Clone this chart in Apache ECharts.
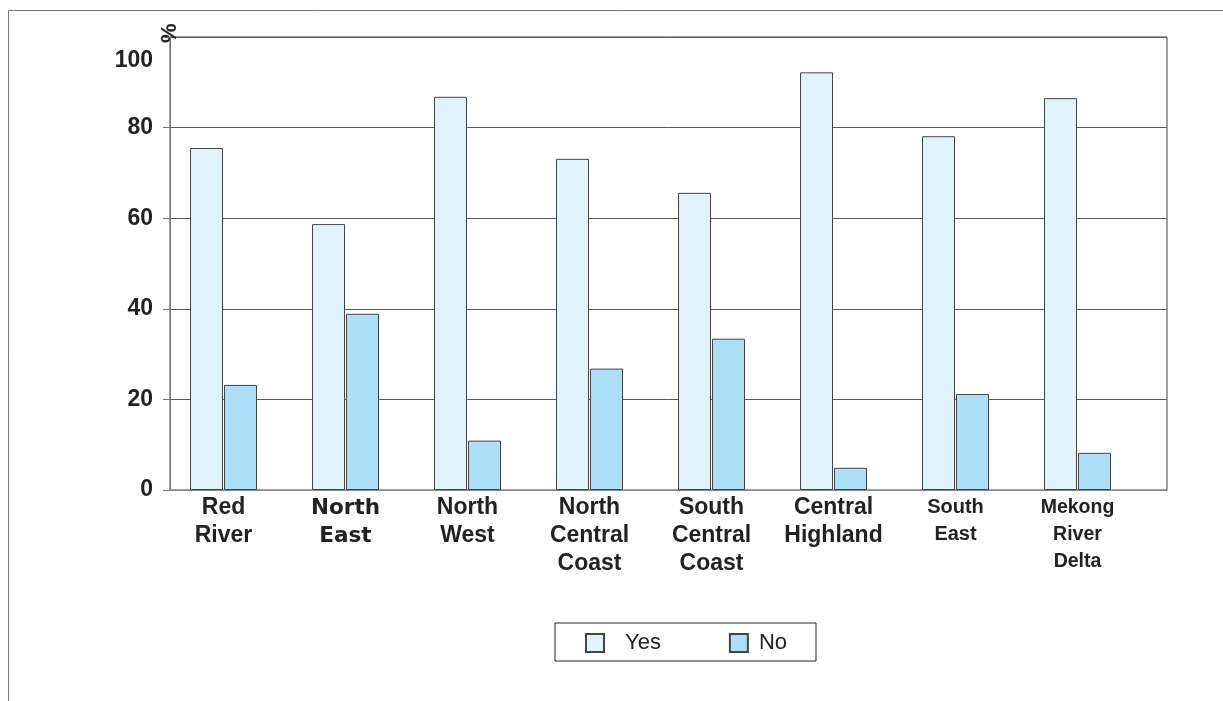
<!DOCTYPE html>
<html><head><meta charset="utf-8">
<script src="https://cdn.jsdelivr.net/npm/echarts@6/dist/echarts.min.js"></script>
<style>html,body{margin:0;padding:0;background:#fff}#c{width:1223px;height:701px}</style>
</head><body><div id="c"></div>
<script>
const categories = ['Red\nRiver', 'North\nEast', 'North\nWest', 'North\nCentral\nCoast', 'South\nCentral\nCoast', 'Central\nHighland', 'South\nEast', 'Mekong\nRiver\nDelta'];
const yesValues = [75.5, 58.7, 86.8, 73.1, 65.6, 92.2, 78.1, 86.5];
const noValues = [23.2, 38.9, 10.9, 26.8, 33.4, 4.9, 21.2, 8.2];
const yTicks = [0, 20, 40, 60, 80, 100];
const seriesNames = ['Yes', 'No'];

const labelStyles = {
  'North\nEast': {fontFamily: 'DejaVu Sans', fontWeight: 'bold', fontSize: 21.5, lineHeight: 28},
  'South\nEast': {fontSize: 20, lineHeight: 27},
  'Mekong\nRiver\nDelta': {fontSize: 19.5, lineHeight: 27}
};
const catData = categories.map(c => labelStyles[c] ? {value: c, textStyle: labelStyles[c]} : c);
const legendPads = [16, 6];

const chart = echarts.init(document.getElementById('c'));
chart.setOption({
  animation: false,
  backgroundColor: '#fff',
  graphic: [{type: 'rect', shape: {x: 8.5, y: 10.5, width: 1400, height: 900}, style: {fill: 'none', stroke: '#777', lineWidth: 1}, silent: true}],
  grid: [
    {left: 162.5, right: 84.5, top: 37, bottom: 211, show: false},
    {left: 170, right: 56, top: 37, bottom: 211, show: true, borderColor: '#444', borderWidth: 1, backgroundColor: 'transparent'}
  ],
  legend: {
    data: seriesNames.map((n, i) => ({name: n, textStyle: {padding: [0, 0, 0, legendPads[i]]}})),
    left: 555, top: 623,
    padding: [9, 29, 7, 30],
    itemWidth: 18, itemHeight: 18, itemGap: 68,
    borderColor: '#222', borderWidth: 1,
    textStyle: {fontFamily: 'Liberation Sans', fontSize: 22, lineHeight: 18, color: '#222'},
    icon: 'rect'
  },
  xAxis: [
    {type: 'category', gridIndex: 0, data: catData,
     axisLine: {show: false}, axisTick: {show: false},
     axisLabel: {interval: 0, margin: 4, fontFamily: 'Liberation Sans', fontWeight: 'bold', fontSize: 23, lineHeight: 28, color: '#222'}},
    {type: 'value', gridIndex: 1, min: 0, max: 1, show: true,
     axisLine: {show: true, lineStyle: {color: '#888', width: 1}},
     axisTick: {show: false}, axisLabel: {show: false}, splitLine: {show: false}}
  ],
  yAxis: [
    {type: 'value', gridIndex: 0, min: 0, max: 100, interval: 20, show: false, splitLine: {show: false}},
    {type: 'value', gridIndex: 1, min: 0, max: 100, interval: 20,
     name: '%', nameLocation: 'end', nameRotate: 90, nameGap: -6,
     nameTextStyle: {fontFamily: 'Liberation Sans', fontWeight: 'bold', fontSize: 22, color: '#222', align: 'left', verticalAlign: 'middle'},
     axisLine: {show: true, lineStyle: {color: '#777'}},
     axisTick: {show: true, length: 7, lineStyle: {color: '#777'}},
     splitLine: {show: true, lineStyle: {color: '#5a5a5a', width: 1}},
     axisLabel: {margin: 17, fontFamily: 'Liberation Sans', fontWeight: 'bold', fontSize: 23, color: '#222',
       formatter: v => v === 100 ? '{t|100}' : String(v),
       rich: {t: {fontFamily: 'Liberation Sans', fontWeight: 'bold', fontSize: 23, color: '#222', padding: [48, 0, 0, 0]}}}}
  ],
  series: [
    {name: seriesNames[0], type: 'bar', xAxisIndex: 0, yAxisIndex: 0, data: yesValues, barWidth: 33, barGap: '3%',
     itemStyle: {color: '#e0f3fa', borderColor: '#444', borderWidth: 1}},
    {name: seriesNames[1], type: 'bar', xAxisIndex: 0, yAxisIndex: 0, data: noValues, barWidth: 33, barGap: '3%',
     itemStyle: {color: '#abe0f8', borderColor: '#444', borderWidth: 1}}
  ]
});
</script></body></html>
